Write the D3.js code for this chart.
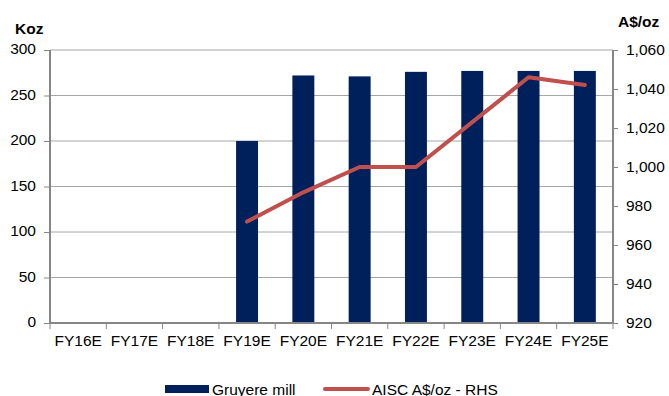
<!DOCTYPE html>
<html>
<head>
<meta charset="utf-8">
<script src="https://cdn.jsdelivr.net/npm/d3@7"></script>
<style>
  html, body { margin: 0; padding: 0; background: #fff; }
  svg { display: block; font-family: "Liberation Sans", Arial, sans-serif; }
</style>
</head>
<body>
<svg id="chart" width="669" height="396"></svg>
<script>
// Fiscal years on the category axis
const years = ["FY16E", "FY17E", "FY18E", "FY19E", "FY20E", "FY21E", "FY22E", "FY23E", "FY24E", "FY25E"];
// Gruyere mill production (koz), left axis
const production = [null, null, null, 200, 272, 271, 276, 277, 277, 277];
// AISC (A$/oz), right axis
const aisc = [null, null, null, 972, 987, 1000, 1000, 1023, 1046, 1042];
// Axis ticks
const leftTicks = [0, 50, 100, 150, 200, 250, 300];
const rightTicks = [920, 940, 960, 980, 1000, 1020, 1040, 1060];

const FONT = "15.5px";
const svg = d3.select("#chart");
const margin = { left: 50, right: 56, top: 50, bottom: 73 };
const W = 669, H = 396;
const x0 = margin.left, x1 = W - margin.right;
const y0 = H - margin.bottom, y1 = margin.top;

const x = d3.scaleBand().domain(years).range([x0, x1]).paddingInner(0.61).paddingOuter(0.305);
const xCat = d3.scaleBand().domain(years).range([x0, x1]);
const yL = d3.scaleLinear().domain([0, 300]).range([y0, y1]);
const yR = d3.scaleLinear().domain([920, 1060]).range([y0, y1]);

const gridColor = "#a6a6a6";
const axisColor = "#868686";

// Horizontal gridlines
svg.append("g")
  .selectAll("line")
  .data(leftTicks.filter(t => t > 0))
  .join("line")
  .attr("x1", x0).attr("x2", x1)
  .attr("y1", d => yL(d)).attr("y2", d => yL(d))
  .attr("stroke", gridColor).attr("stroke-width", 1);

// Bars
svg.append("g")
  .selectAll("rect")
  .data(years.map((y, i) => ({ y, v: production[i] })).filter(d => d.v != null))
  .join("rect")
  .attr("x", d => x(d.y))
  .attr("width", x.bandwidth())
  .attr("y", d => yL(d.v))
  .attr("height", d => yL(0) - yL(d.v))
  .attr("fill", "#00205b");

// AISC line
const linePts = years.map((y, i) => ({ y, v: aisc[i] })).filter(d => d.v != null);
svg.append("path")
  .datum(linePts)
  .attr("fill", "none")
  .attr("stroke", "#c0504d")
  .attr("stroke-width", 4)
  .attr("stroke-linejoin", "round")
  .attr("stroke-linecap", "round")
  .attr("d", d3.line().x(d => xCat(d.y) + xCat.bandwidth() / 2).y(d => yR(d.v)));

// Left axis
const leftAxis = svg.append("g")
  .attr("transform", `translate(${x0},0)`)
  .call(d3.axisLeft(yL).tickValues(leftTicks).tickSize(6).tickPadding(8));
// Right axis
const rightAxis = svg.append("g")
  .attr("transform", `translate(${x1},0)`)
  .call(d3.axisRight(yR).tickValues(rightTicks).tickSize(5).tickPadding(8).tickFormat(d3.format(",")));
// Bottom axis
const bottomAxis = svg.append("g")
  .attr("transform", `translate(0,${y0})`)
  .call(d3.axisBottom(xCat).tickSize(0).tickPadding(12));

[leftAxis, rightAxis, bottomAxis].forEach(g => {
  g.select(".domain").attr("stroke", axisColor).attr("stroke-width", 2);
  g.selectAll(".tick line").attr("stroke", axisColor).attr("stroke-width", 1);
  g.selectAll("text").attr("fill", "#000").style("font-size", FONT)
    .style("font-family", "'Liberation Sans', Arial, sans-serif");
});
leftAxis.selectAll("text").attr("dy", "0.25em");
rightAxis.selectAll("text").attr("dy", "0.3em");
leftAxis.select(".domain").attr("d", `M0,${y0}V${y1}`);
rightAxis.select(".domain").attr("d", `M0,${y0}V${y1}`);
bottomAxis.select(".domain").attr("d", `M${x0},0H${x1}`);

// Category boundary ticks below the x axis
svg.append("g")
  .selectAll("line")
  .data(d3.range(years.length + 1))
  .join("line")
  .attr("x1", i => x0 + i * xCat.step()).attr("x2", i => x0 + i * xCat.step())
  .attr("y1", y0).attr("y2", y0 + 6)
  .attr("stroke", axisColor).attr("stroke-width", 1);

// Axis unit titles
svg.append("text").attr("x", 15).attr("y", 33.5).text("Koz")
  .style("font-size", FONT).style("font-weight", "bold");
svg.append("text").attr("x", 618).attr("y", 26.5).text("A$/oz")
  .style("font-size", FONT).style("font-weight", "bold");

// Legend
const legend = svg.append("g");
legend.append("rect").attr("x", 165).attr("y", 385).attr("width", 44).attr("height", 8).attr("fill", "#00205b");
legend.append("text").attr("x", 212).attr("y", 394.5).text("Gruyere mill").style("font-size", FONT);
legend.append("line").attr("x1", 325).attr("x2", 368).attr("y1", 389).attr("y2", 389)
  .attr("stroke", "#c0504d").attr("stroke-width", 4).attr("stroke-linecap", "round");
legend.append("text").attr("x", 372).attr("y", 394.5).text("AISC A$/oz - RHS").style("font-size", FONT);
</script>
</body>
</html>
